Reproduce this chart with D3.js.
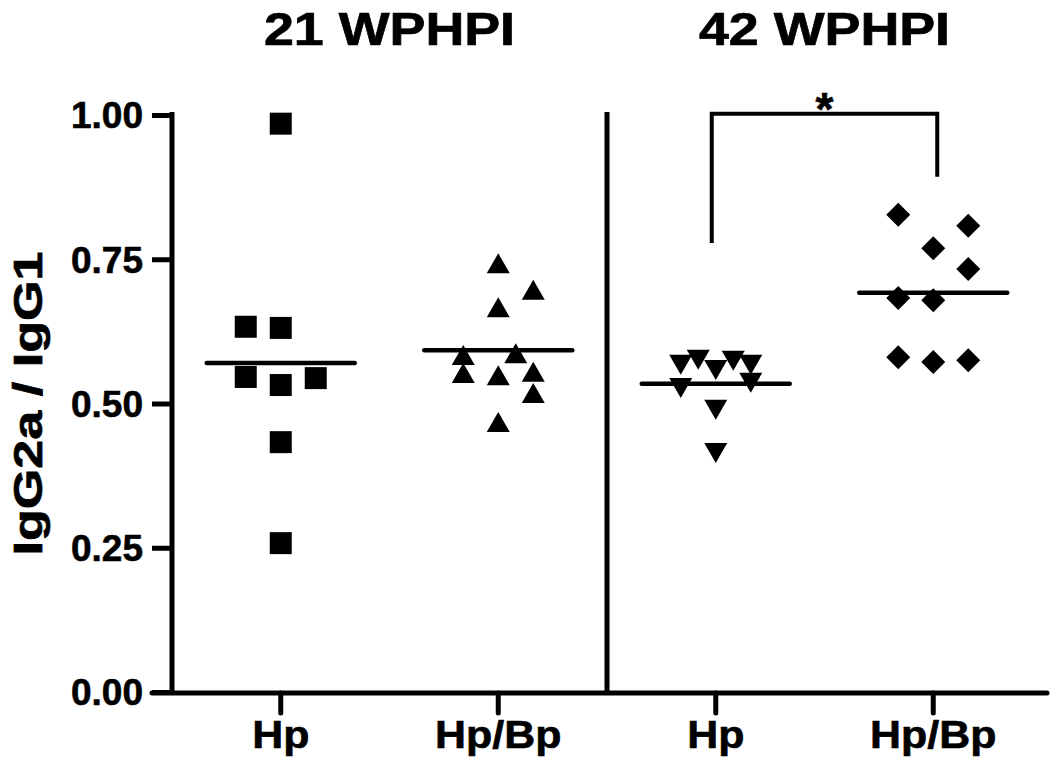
<!DOCTYPE html>
<html>
<head>
<meta charset="utf-8">
<script src="https://cdn.jsdelivr.net/npm/d3@7"></script>
<style>
  html, body { margin: 0; padding: 0; background: #fff; }
  svg text { font-family: "Liberation Sans", Arial, Helvetica, sans-serif; font-weight: bold; fill: #000; }
</style>
</head>
<body>
<svg id="chart" width="1050" height="764"></svg>
<script>
// ---------- data ----------
const panels = ["21 WPHPI", "42 WPHPI"];
const categoryKeys = ["21-Hp", "21-HpBp", "42-Hp", "42-HpBp"];
const categoryLabels = ["Hp", "Hp/Bp", "Hp", "Hp/Bp"];
const yTicks = [0, 0.25, 0.5, 0.75, 1.0];
const yLabel = "IgG2a / IgG1";

const hp21 = [0.985, 0.633, 0.631, 0.546, 0.532, 0.544, 0.433, 0.258];
const hp21Cols = [0, -1, 0, -1, 0, 1, 0, 0];
const hpbp21 = [0.743, 0.697, 0.667, 0.584, 0.553, 0.587, 0.549, 0.555, 0.518, 0.468];
const hpbp21Cols = [0, 1, 0, -1, -1, 0.5, 0, 1, 1, 0];
const hp42 = [0.567, 0.576, 0.558, 0.574, 0.567, 0.536, 0.527, 0.489, 0.414];
const hp42Cols = [-1, -0.5, 0, 0.5, 1, 1, -1, 0, 0];
const hpbp42 = [0.827, 0.808, 0.769, 0.733, 0.683, 0.679, 0.580, 0.572, 0.575];
const hpbp42Cols = [-1, 1, 0, 1, -1, 0, -1, 0, 1];

// significance bracket (value units): top, left leg end, right leg end
const sigFrom = "42-Hp", sigTo = "42-HpBp";
const sigTop = 1.002, sigLeftEnd = 0.778, sigRightEnd = 0.893;
const sigLabel = "*";

// ---------- layout ----------
const svg = d3.select("#chart");
const x = d3.scaleBand().domain(categoryKeys).range([172, 1042]);
const y = d3.scaleLinear().domain([0, 1]).range([692, 115]);
const jitter = 35;
const AXW = 5;
const cxOf = k => x(k) + x.bandwidth() / 2;

const groups = [
  { key: "21-Hp", vals: hp21, cols: hp21Cols, shape: "square" },
  { key: "21-HpBp", vals: hpbp21, cols: hpbp21Cols, shape: "triUp" },
  { key: "42-Hp", vals: hp42, cols: hp42Cols, shape: "triDown" },
  { key: "42-HpBp", vals: hpbp42, cols: hpbp42Cols, shape: "diamond" }
];

function shapePath(shape) {
  const p = d3.path();
  if (shape === "square") {
    const s = 11; p.rect(-s, -s, 2 * s, 2 * s);
  } else if (shape === "triUp") {
    const w = 11.5, h = 10;
    p.moveTo(0, -h); p.lineTo(w, h); p.lineTo(-w, h); p.closePath();
  } else if (shape === "triDown") {
    const w = 11.5, h = 10;
    p.moveTo(-w, -h); p.lineTo(w, -h); p.lineTo(0, h); p.closePath();
  } else {
    const r = 12;
    p.moveTo(0, -r); p.lineTo(r, 0); p.lineTo(0, r); p.lineTo(-r, 0); p.closePath();
  }
  return p.toString();
}

// ---------- axes ----------
const yAxis = d3.axisLeft(y).tickValues(yTicks).tickFormat(d3.format(".2f"))
  .tickSize(20).tickSizeOuter(0).tickPadding(9);
const gy = svg.append("g").attr("transform", `translate(${x.range()[0]},0)`).call(yAxis);
gy.select(".domain").remove();
gy.selectAll(".tick line").attr("stroke", "#000").attr("stroke-width", AXW);
gy.selectAll(".tick text").attr("font-size", 37).attr("dy", "0.35em")
  .attr("stroke", "#000").attr("stroke-width", 0.6);
svg.append("line")
  .attr("x1", x.range()[0]).attr("x2", x.range()[0])
  .attr("y1", y(1) - 3).attr("y2", y(0) + 1)
  .attr("stroke", "#000").attr("stroke-width", AXW);

const xAxis = d3.axisBottom(x).tickSize(20).tickSizeOuter(0).tickPadding(8)
  .tickFormat((d, i) => categoryLabels[i]);
const gx = svg.append("g").attr("transform", `translate(0,${y(0) + 1})`).call(xAxis);
gx.select(".domain").remove();
gx.selectAll(".tick line").attr("stroke", "#000").attr("stroke-width", AXW).attr("stroke-linecap", "round");
gx.selectAll(".tick text").attr("font-size", 38)
  .attr("transform", "scale(1.13,1)")
  .attr("stroke", "#000").attr("stroke-width", 0.6);
svg.append("line")
  .attr("x1", x.range()[0] - 20).attr("x2", 1047)
  .attr("y1", y(0) + 1).attr("y2", y(0) + 1)
  .attr("stroke", "#000").attr("stroke-width", AXW).attr("stroke-linecap", "round");

// panel divider
const divX = x("42-Hp");
svg.append("line")
  .attr("x1", divX).attr("x2", divX)
  .attr("y1", y(1) - 3).attr("y2", y(0) + 1)
  .attr("stroke", "#000").attr("stroke-width", AXW);

// panel titles (centred over each panel's pair of categories)
const panelCenters = [
  (cxOf("21-Hp") + cxOf("21-HpBp")) / 2,
  (cxOf("42-Hp") + cxOf("42-HpBp")) / 2
];
svg.selectAll(".ptitle").data(panels).enter().append("text")
  .attr("class", "ptitle")
  .attr("transform", (d, i) => `translate(${panelCenters[i]},45) scale(1.17,1)`)
  .attr("text-anchor", "middle").attr("font-size", 46)
  .attr("stroke", "#000").attr("stroke-width", 0.7)
  .text(d => d);

// y label
svg.append("text")
  .attr("transform", `translate(42,${(y(0) + y(1)) / 2}) rotate(-90) scale(1.27,1)`)
  .attr("text-anchor", "middle").attr("font-size", 41)
  .attr("stroke", "#000").attr("stroke-width", 0.7)
  .text(yLabel);

// ---------- points & means ----------
groups.forEach(g => {
  const cx = cxOf(g.key);
  svg.append("g").selectAll("path").data(g.vals).enter().append("path")
    .attr("d", shapePath(g.shape))
    .attr("transform", (d, i) => `translate(${cx + g.cols[i] * jitter},${y(d)})`)
    .attr("fill", "#000");
  const m = d3.mean(g.vals);
  svg.append("line")
    .attr("x1", cx - 74).attr("x2", cx + 74)
    .attr("y1", y(m)).attr("y2", y(m))
    .attr("stroke", "#000").attr("stroke-width", 4.5).attr("stroke-linecap", "round");
});

// significance bracket
const bx1 = cxOf(sigFrom) - 4;
const bx2 = cxOf(sigTo) + 4;
svg.append("path")
  .attr("d", `M${bx1},${y(sigLeftEnd)}V${y(sigTop)}H${bx2}V${y(sigRightEnd)}`)
  .attr("fill", "none").attr("stroke", "#000").attr("stroke-width", 4);
svg.append("text")
  .attr("x", (bx1 + bx2) / 2).attr("y", y(sigTop) + 11)
  .attr("text-anchor", "middle").attr("font-size", 46)
  .attr("stroke", "#000").attr("stroke-width", 0.6)
  .text(sigLabel);
</script>
</body>
</html>
